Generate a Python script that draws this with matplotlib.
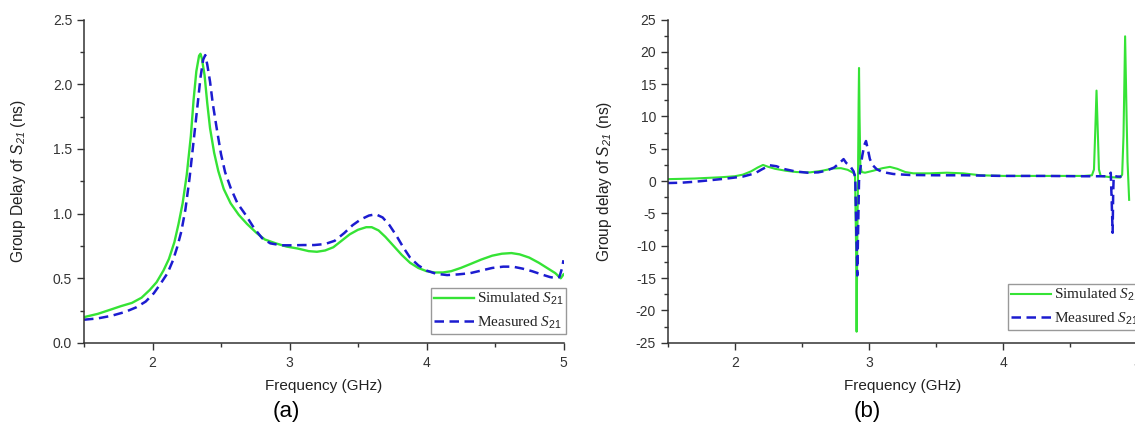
import matplotlib
matplotlib.use("Agg")
import matplotlib.pyplot as plt
from matplotlib.font_manager import FontProperties
from matplotlib.ticker import MultipleLocator, FormatStrFormatter

plt.rcParams["font.family"] = ["Liberation Sans", "DejaVu Sans"]
plt.rcParams["axes.unicode_minus"] = False
plt.rcParams["mathtext.fontset"] = "custom"
plt.rcParams["mathtext.rm"] = "Liberation Sans"
plt.rcParams["mathtext.sf"] = "Liberation Sans:italic"
plt.rcParams["mathtext.it"] = "Liberation Serif:italic"

# (a) group delay
freq_a_sim = [1.50, 1.60, 1.70, 1.77, 1.85, 1.92, 1.98, 2.03, 2.08, 2.12, 2.16, 2.19,
              2.22, 2.25, 2.28, 2.30, 2.32, 2.34, 2.35, 2.36, 2.38, 2.40, 2.42, 2.45,
              2.48, 2.52, 2.57, 2.63, 2.69, 2.76, 2.82, 2.90, 2.98, 3.06, 3.14, 3.20,
              3.26, 3.32, 3.38, 3.44, 3.50, 3.56, 3.60, 3.65, 3.70, 3.76, 3.82, 3.88,
              3.94, 4.00, 4.06, 4.12, 4.18, 4.25, 4.32, 4.40, 4.48, 4.55, 4.62, 4.68,
              4.75, 4.82, 4.88, 4.94, 4.98, 5.00]
delay_a_sim = [0.20, 0.225, 0.26, 0.285, 0.31, 0.35, 0.41, 0.47, 0.56, 0.65, 0.78, 0.92,
               1.08, 1.30, 1.60, 1.88, 2.10, 2.22, 2.235, 2.20, 2.07, 1.85, 1.66, 1.47,
               1.33, 1.19, 1.08, 0.99, 0.92, 0.85, 0.80, 0.77, 0.745, 0.73, 0.71, 0.705,
               0.715, 0.74, 0.79, 0.84, 0.875, 0.895, 0.895, 0.87, 0.82, 0.75, 0.68, 0.62,
               0.58, 0.555, 0.545, 0.545, 0.555, 0.58, 0.61, 0.645, 0.675, 0.69, 0.695, 0.685,
               0.66, 0.62, 0.58, 0.54, 0.50, 0.53]

freq_a_meas = [1.50, 1.60, 1.70, 1.80, 1.88, 1.95, 2.01, 2.06, 2.11, 2.15, 2.18, 2.21,
               2.24, 2.27, 2.30, 2.33, 2.35, 2.37, 2.385, 2.40, 2.42, 2.44, 2.47, 2.50,
               2.53, 2.57, 2.62, 2.68, 2.74, 2.80, 2.86, 2.94, 3.02, 3.10, 3.18, 3.26,
               3.33, 3.40, 3.46, 3.52, 3.58, 3.63, 3.68, 3.73, 3.78, 3.83, 3.88, 3.94,
               4.00, 4.07, 4.15, 4.23, 4.32, 4.40, 4.48, 4.56, 4.63, 4.70, 4.77, 4.84,
               4.90, 4.95, 4.97, 4.99, 5.00]
delay_a_meas = [0.18, 0.19, 0.21, 0.24, 0.275, 0.32, 0.385, 0.46, 0.54, 0.64, 0.74, 0.86,
                1.03, 1.27, 1.56, 1.85, 2.05, 2.19, 2.225, 2.15, 2.02, 1.85, 1.65, 1.46,
                1.32, 1.20, 1.08, 0.99, 0.89, 0.81, 0.77, 0.755, 0.755, 0.757, 0.757, 0.765,
                0.79, 0.85, 0.91, 0.955, 0.985, 0.995, 0.97, 0.91, 0.83, 0.74, 0.66, 0.60,
                0.56, 0.535, 0.525, 0.53, 0.54, 0.56, 0.58, 0.59, 0.59, 0.575, 0.555, 0.53,
                0.51, 0.50, 0.51, 0.58, 0.64]

# (b) group delay
freq_b_sim = [1.50, 1.70, 1.90, 2.00, 2.06, 2.12, 2.17, 2.21, 2.25, 2.30, 2.38, 2.46,
              2.56, 2.65, 2.73, 2.79, 2.84, 2.88, 2.895, 2.903, 2.907, 2.912, 2.918, 2.922,
              2.925, 2.929, 2.935, 2.945, 2.97, 3.03, 3.10, 3.155, 3.21, 3.27, 3.33, 3.45,
              3.58, 3.70, 3.83, 4.00, 4.20, 4.40, 4.60, 4.66, 4.675, 4.685, 4.694, 4.703,
              4.712, 4.725, 4.80, 4.87, 4.885, 4.895, 4.907, 4.918, 4.925, 4.937]
delay_b_sim = [0.30, 0.40, 0.60, 0.75, 1.0, 1.5, 2.1, 2.5, 2.2, 1.9, 1.6, 1.4,
               1.35, 1.6, 1.95, 2.0, 1.75, 1.3, 1.0, -10.0, -23.3, -10.0, 2.0, 12.0,
               17.5, 10.0, 2.5, 1.4, 1.3, 1.6, 2.0, 2.2, 1.9, 1.4, 1.2, 1.2,
               1.3, 1.2, 0.9, 0.8, 0.8, 0.8, 0.8, 0.9, 1.8, 8.0, 14.0, 8.0,
               1.8, 0.8, 0.6, 0.55, 1.0, 7.0, 22.4, 10.0, 3.0, -2.9]

freq_b_meas = [1.50, 1.60, 1.70, 1.80, 1.94, 2.06, 2.15, 2.20, 2.26, 2.31, 2.36, 2.45,
               2.54, 2.62, 2.68, 2.74, 2.78, 2.81, 2.83, 2.86, 2.885, 2.897, 2.905, 2.912,
               2.918, 2.925, 2.935, 2.95, 2.965, 2.977, 2.99, 3.006, 3.03, 3.056, 3.10, 3.18,
               3.30, 3.50, 3.70, 4.00, 4.30, 4.60, 4.77, 4.795, 4.80, 4.807, 4.814, 4.818,
               4.822, 4.85, 4.88]
delay_b_meas = [-0.30, -0.25, -0.10, 0.10, 0.40, 0.70, 1.2, 1.8, 2.45, 2.3, 1.9, 1.5,
                1.3, 1.35, 1.6, 2.1, 2.8, 3.4, 2.8, 2.3, 1.5, 0.5, -8.0, -14.6,
                -8.0, 0.0, 2.0, 4.0, 5.6, 6.2, 5.0, 3.4, 2.4, 1.85, 1.4, 1.1,
                0.95, 0.9, 0.9, 0.8, 0.8, 0.75, 0.75, 1.1, 1.3, -3.0, -8.0, -2.0,
                0.8, 0.7, 0.7]

sim_label = r"Simulated $\mathit{S_{21}}$"
meas_label = r"Measured $\mathit{S_{21}}$"

green = "#35e335"
blue = "#1c1cd0"
axis_col = "#333333"

fig = plt.figure(figsize=(11.35, 4.25), dpi=100)
ax1 = fig.add_axes([84 / 1135, 82 / 425, 479.5 / 1135, 323.5 / 425])
ax2 = fig.add_axes([667.7 / 1135, 82.3 / 425, 469.9 / 1135, 323.2 / 425])

ax1.plot(freq_a_sim, delay_a_sim, color=green, lw=1.7, label=sim_label)
ax1.plot(freq_a_meas, delay_a_meas, color=blue, lw=1.8, ls=(0, (3.8, 2.2)), label=meas_label)
ax2.plot(freq_b_sim, delay_b_sim, color=green, lw=1.5, label=sim_label)
ax2.plot(freq_b_meas, delay_b_meas, color=blue, lw=1.8, ls=(0, (3.8, 2.2)), label=meas_label)

ax1.set_xlim(1.5, 5)
ax1.set_ylim(0, 2.5)
ax1.yaxis.set_major_locator(MultipleLocator(0.5))
ax1.yaxis.set_minor_locator(MultipleLocator(0.25))
ax1.yaxis.set_major_formatter(FormatStrFormatter("%.1f"))

ax2.set_xlim(1.5, 5)
ax2.set_ylim(-25, 25)
ax2.yaxis.set_major_locator(MultipleLocator(5))
ax2.yaxis.set_minor_locator(MultipleLocator(2.5))

for ax in (ax1, ax2):
    ax.xaxis.set_major_locator(MultipleLocator(1))
    ax.xaxis.set_minor_locator(MultipleLocator(0.5))
    for s in ("top", "right"):
        ax.spines[s].set_visible(False)
    for s in ("left", "bottom"):
        ax.spines[s].set_color(axis_col)
        ax.spines[s].set_linewidth(1.1)
    ax.tick_params(which="major", direction="out", length=5, width=1, color=axis_col,
                   labelsize=10, labelcolor=axis_col)
    ax.tick_params(which="minor", direction="out", length=3, width=1, color=axis_col)
    ax.tick_params(axis="x", pad=4.5)
    ax.tick_params(axis="y", pad=3.5)
    ax.set_xlabel("Frequency (GHz)", fontsize=11, color="#222222")
    ax.xaxis.set_label_coords(0.5, -0.112)

ax1.set_ylabel(r"Group Delay of $\mathsf{S_{21}}$ (ns)", fontsize=11.2, color="#222222")
ax1.yaxis.set_label_coords(-0.116, 0.5)
ax2.set_ylabel(r"Group delay of $\mathsf{S_{21}}$ (ns)", fontsize=11.2, color="#222222")
ax2.yaxis.set_label_coords(-0.114, 0.5)

# the right legend runs past the figure edge, as in the original
leg_font = FontProperties(family="Liberation Serif", size=11)
for ax, anchor in ((ax1, (431 / 1135, 1 - 288 / 425)), (ax2, (1008 / 1135, 1 - 284 / 425))):
    leg = ax.legend(loc="upper left", bbox_to_anchor=anchor, bbox_transform=fig.transFigure,
                    prop=leg_font, frameon=True, fancybox=False, framealpha=1,
                    handlelength=2.6, handletextpad=0.2, labelspacing=0.5,
                    borderpad=0.2, borderaxespad=0)
    leg.get_frame().set_edgecolor("#999999")
    leg.get_frame().set_linewidth(1.0)
    for t in leg.get_texts():
        t.set_color("#222222")

fig.text(286.7 / 1135, 1 - 411.7 / 425, "(a)", fontsize=16, ha="center", va="center")
fig.text(867 / 1135, 1 - 411.7 / 425, "(b)", fontsize=16, ha="center", va="center")

fig.savefig("out.png", dpi=100)
